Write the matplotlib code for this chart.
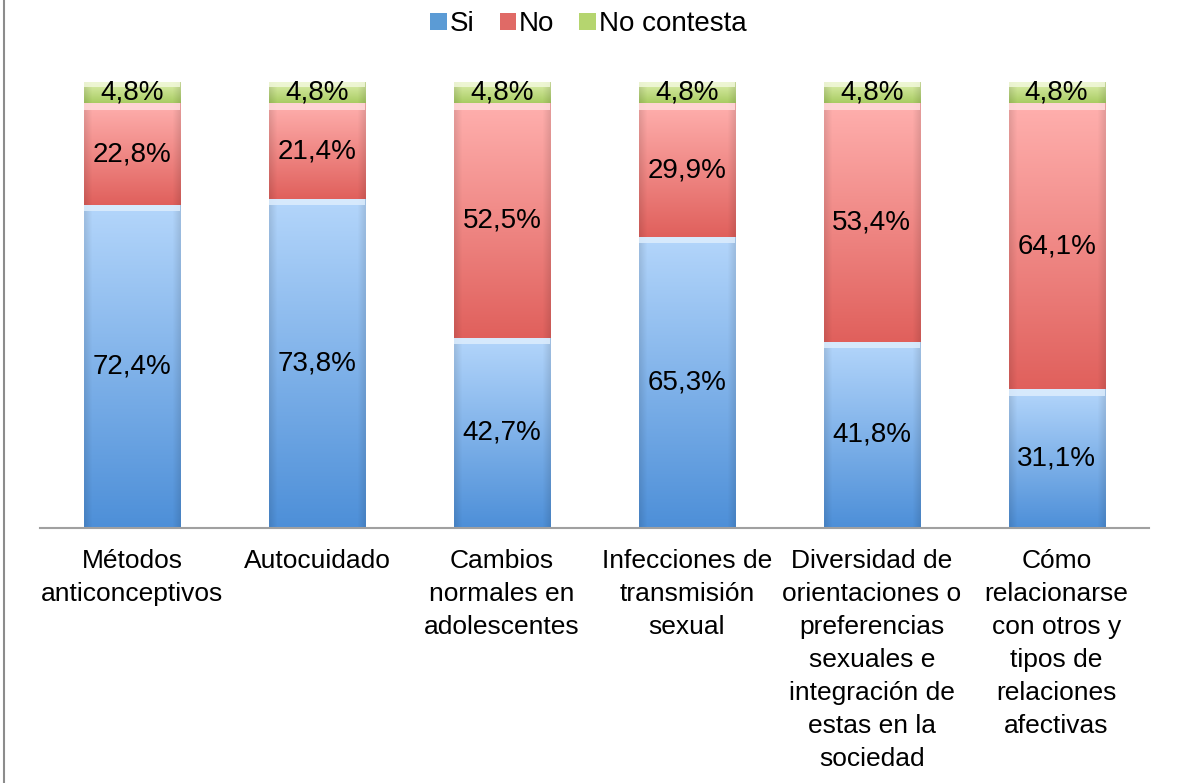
import numpy as np
import matplotlib
matplotlib.use("Agg")
import matplotlib.pyplot as plt
from matplotlib.colors import to_rgb
from matplotlib.patches import Patch
from matplotlib.lines import Line2D

plt.rcParams["font.family"] = ["Liberation Sans", "DejaVu Sans"]

categories = [
    "Métodos\nanticonceptivos",
    "Autocuidado",
    "Cambios\nnormales en\nadolescentes",
    "Infecciones de\ntransmisión\nsexual",
    "Diversidad de\norientaciones o\npreferencias\nsexuales e\nintegración de\nestas en la\nsociedad",
    "Cómo\nrelacionarse\ncon otros y\ntipos de\nrelaciones\nafectivas",
]
si = [72.4, 73.8, 42.7, 65.3, 41.8, 31.1]
no = [22.8, 21.4, 52.5, 29.9, 53.4, 64.1]
nc = [4.8, 4.8, 4.8, 4.8, 4.8, 4.8]
series = ["Si", "No", "No contesta"]

# (top colour, bottom colour, legend colour)
STYLE = {
    "Si": ("#b4d6fb", "#4d8fd8", "#5b9bd5"),
    "No": ("#ffb0ae", "#e0605c", "#e06a66"),
    "No contesta": ("#e0f0b0", "#a8cc62", "#b5d56f"),
}

fig = plt.figure(figsize=(11.77, 7.83), dpi=100)
ax = fig.add_axes([0.034, 0.3257, 0.9422, 0.5696])

width = 0.52
x = np.arange(len(categories))


def grad_bar(ax, xc, y0, h, top, bot):
    t = np.array(to_rgb(top))
    b = np.array(to_rgb(bot))
    ny, nx = 200, 40
    fy = np.linspace(0, 1, ny)[:, None, None]          # 0 = top
    img = t * (1 - fy) + b * fy
    img = np.repeat(img, nx, axis=1)
    # darker side edges for bevel look
    fx = np.linspace(-1, 1, nx)
    edge = 1 - 0.10 * np.clip((np.abs(fx) - 0.85) / 0.15, 0, 1)
    img = np.clip(img * edge[None, :, None], 0, 1)
    ax.imshow(img, extent=(xc - width / 2, xc + width / 2, y0, y0 + h),
              aspect="auto", origin="upper", zorder=2, interpolation="bilinear")
    # thin light bevel at top of segment
    strip = min(1.4, h * 0.25)
    lt = np.clip(t * 0.45 + 0.55, 0, 1)
    ax.fill_between([xc - width / 2, xc + width / 2], y0 + h - strip, y0 + h,
                    color=lt, alpha=0.85, lw=0, zorder=2.5)


for i in range(len(categories)):
    bottom = 0
    for name, vals in zip(series, [si, no, nc]):
        v = vals[i]
        top, bot, _ = STYLE[name]
        grad_bar(ax, x[i], bottom, v, top, bot)
        ax.text(x[i], bottom + v / 2, f"{v:.1f}%".replace(".", ","),
                ha="center", va="center", fontsize=20, zorder=3)
        bottom += v

ax.set_xlim(-0.5, len(categories) - 0.5)
ax.set_ylim(0, 100)
for s in ["top", "right", "left"]:
    ax.spines[s].set_visible(False)
ax.spines["bottom"].set_color("#a0a0a0")
ax.spines["bottom"].set_linewidth(1.5)
ax.set_yticks([])
ax.set_xticks([])

for i, lab in enumerate(categories):
    ax.text(x[i], -4.8, lab, ha="center", va="top", fontsize=19,
            linespacing=1.47)

handles = [Patch(facecolor=STYLE[n][2], edgecolor="none") for n in series]
fig.legend(handles, series, loc="center", bbox_to_anchor=(0.5, 0.969),
           ncol=3, frameon=False, fontsize=20, handlelength=0.6,
           handleheight=0.6, handletextpad=0.1, columnspacing=0.9)

fig.add_artist(Line2D([0.003, 0.003], [0, 1], transform=fig.transFigure,
                      color="#8c8c8c", lw=1.5))

fig.savefig("out.png", dpi=100)
